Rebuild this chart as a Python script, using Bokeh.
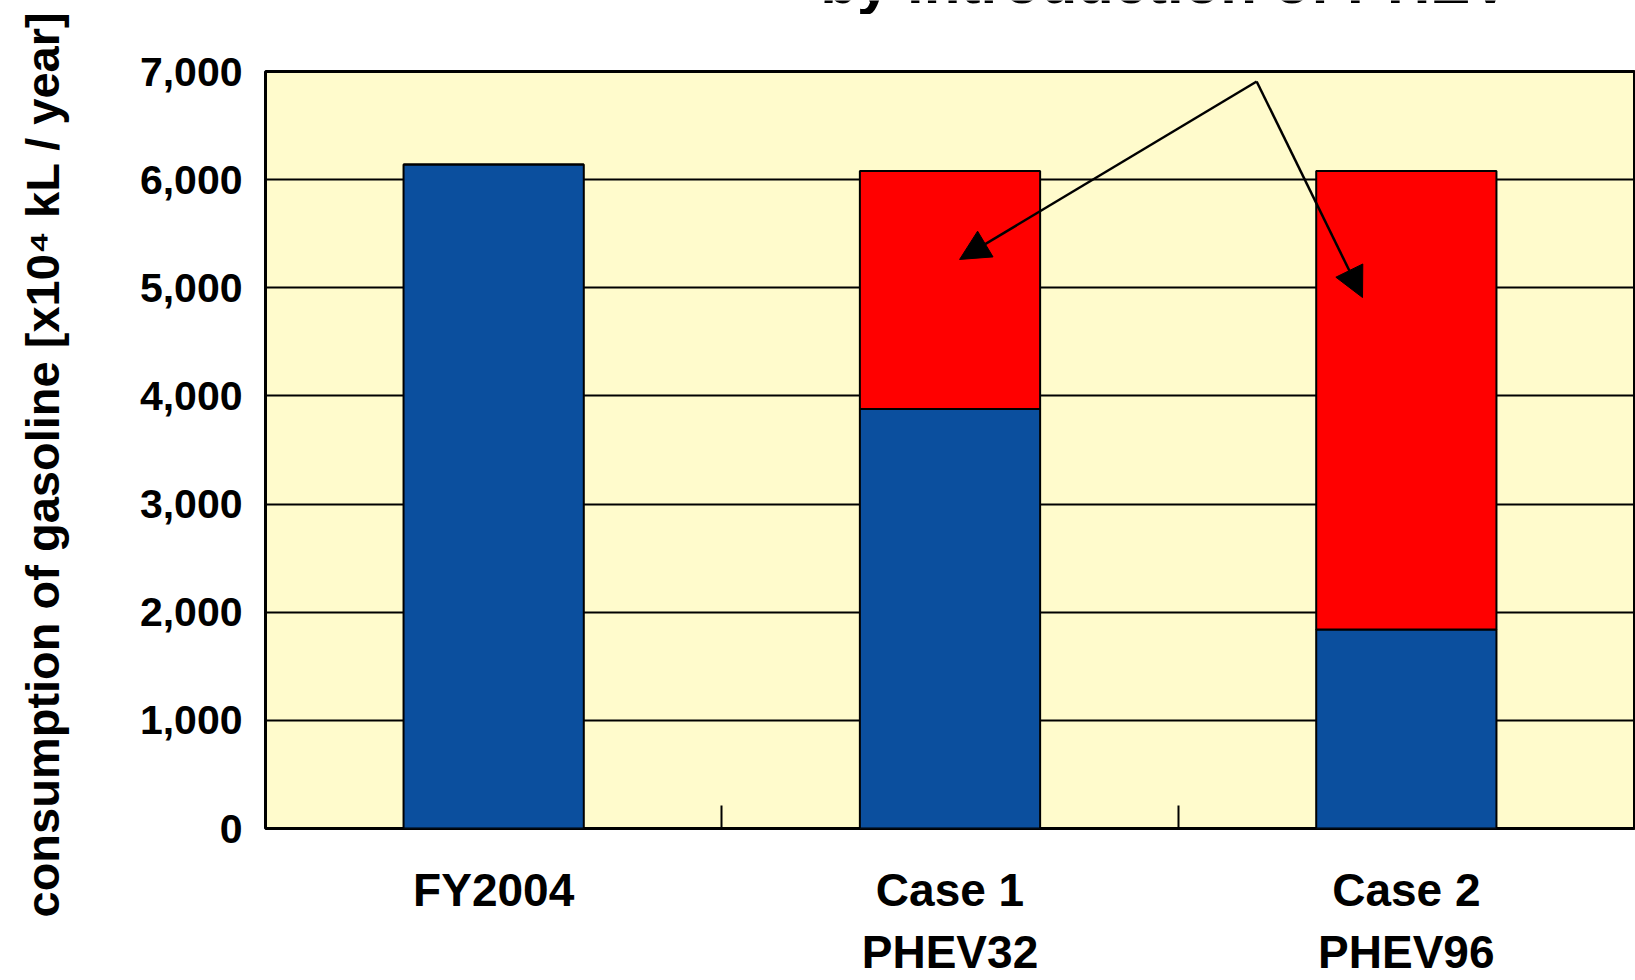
import math
from bokeh.plotting import figure
from bokeh.layouts import column, row
from bokeh.models import Range1d, FixedTicker, NumeralTickFormatter, Arrow, NormalHead
from bokeh.core.properties import value
from bokeh.embed import file_html
from bokeh.resources import INLINE

# Gasoline consumption [x10^4 kL / year]
categories = ["FY2004", "Case 1\nPHEV32", "Case 2\nPHEV96"]
remaining = [6140, 3880, 1840]      # gasoline still consumed
reduced = [0, 2200, 4240]           # reduction by PHEV introduction
y_ticks = [0, 1000, 2000, 3000, 4000, 5000, 6000, 7000]
heading = "by introduction of PHEV"
y_title = "consumption of gasoline [x10\u2074 kL / year]"

BLUE = "#0B4F9E"
RED = "#FF0000"
PANEL = "#FFFBCC"
FONT = "Liberation Sans"
TOTAL_W, TOTAL_H = 1635, 980
SIDE_W = 100         # strip holding the vertical axis title
HEAD_H = 14          # strip holding the lower edge of the heading
MAIN_W = TOTAL_W - SIDE_W
LEFT = 265 - SIDE_W  # room for the tick labels
FRAME_W = TOTAL_W - 265 - 1

x_pos = [i + 0.5 for i in range(len(categories))]
boundaries = [float(i) for i in range(1, len(categories))]
x_range = Range1d(0, len(categories))


def bare(frame_w, frame_h, xr, yr, left=0, right=0):
    f = figure(frame_width=frame_w, frame_height=frame_h, output_backend="svg",
               toolbar_location=None, title=None, x_range=xr, y_range=yr,
               x_axis_type=None, y_axis_type=None,
               min_border_left=left, min_border_right=right, min_border_top=0,
               min_border_bottom=0)
    f.outline_line_color = None
    f.grid.visible = False
    return f


# vertical axis title
side = bare(SIDE_W, TOTAL_H, Range1d(0, SIDE_W), Range1d(0, TOTAL_H))
side.text(x=[41.5], y=[TOTAL_H - 464], text=[y_title], angle=math.pi / 2,
          text_font=value(FONT), text_font_style="bold", text_font_size="47px",
          text_align="center", text_baseline="middle", text_color="black")

# heading: only its lower edge falls inside the page
head = bare(FRAME_W, HEAD_H, x_range, Range1d(0, HEAD_H), left=LEFT, right=1)
head.text(x=[1.972], y=[HEAD_H - 1.5], text=[heading], y_offset=-20,
          text_font=value(FONT), text_font_style="bold", text_font_size="60px",
          text_align="center", text_baseline="alphabetic", text_color="black")

p = figure(width=MAIN_W, height=TOTAL_H - HEAD_H, output_backend="svg",
           toolbar_location=None, x_range=x_range, y_range=Range1d(0, 7000),
           min_border_left=LEFT, min_border_right=1, min_border_top=71 - HEAD_H,
           min_border_bottom=152)

p.background_fill_color = PANEL
p.border_fill_color = "white"
p.outline_line_color = "black"
p.outline_line_width = 3

# horizontal grid lines
p.xgrid.grid_line_color = None
p.ygrid.ticker = FixedTicker(ticks=y_ticks)
p.ygrid.grid_line_color = "black"
p.ygrid.grid_line_width = 2
p.ygrid.grid_line_alpha = 1.0

# stacked bars
data = dict(x=x_pos, remaining=remaining, reduced=reduced)
p.vbar_stack(["remaining", "reduced"], x="x", width=0.395, source=data,
             color=[BLUE, RED], line_color="black", line_width=2)

# y axis
yax = p.yaxis[0]
yax.ticker = FixedTicker(ticks=y_ticks)
yax.formatter = NumeralTickFormatter(format="0,0")
yax.axis_line_color = None
yax.major_tick_in = 0
yax.major_tick_out = 0
yax.minor_tick_line_color = None
yax.major_label_standoff = 23
yax.major_label_text_font = FONT
yax.major_label_text_font_style = "bold"
yax.major_label_text_font_size = "41px"
yax.major_label_text_color = "black"

# x axis: labels at bar centres, short inward ticks between groups
xax = p.xaxis[0]
xax.ticker = FixedTicker(ticks=x_pos, minor_ticks=boundaries)
xax.major_label_overrides = {x: c for x, c in zip(x_pos, categories)}
xax.axis_line_color = None
xax.major_tick_in = 0
xax.major_tick_out = 0
xax.minor_tick_in = 23
xax.minor_tick_out = 0
xax.minor_tick_line_color = "black"
xax.minor_tick_line_width = 2
xax.major_label_standoff = 35
xax.major_label_text_font = FONT
xax.major_label_text_font_style = "bold"
xax.major_label_text_font_size = "46px"
xax.major_label_text_color = "black"

# arrows pointing into the reduction parts
apex = (2.172, 6908)
for end in [(1.521, 5262), (2.404, 4910)]:
    p.add_layout(Arrow(end=NormalHead(size=30, fill_color="black", line_color="black"),
                       x_start=apex[0], y_start=apex[1], x_end=end[0], y_end=end[1],
                       line_color="black", line_width=2.5))

layout = row(side, column(head, p, spacing=0), spacing=0)
open("out.html", "w").write(file_html(layout, INLINE))
